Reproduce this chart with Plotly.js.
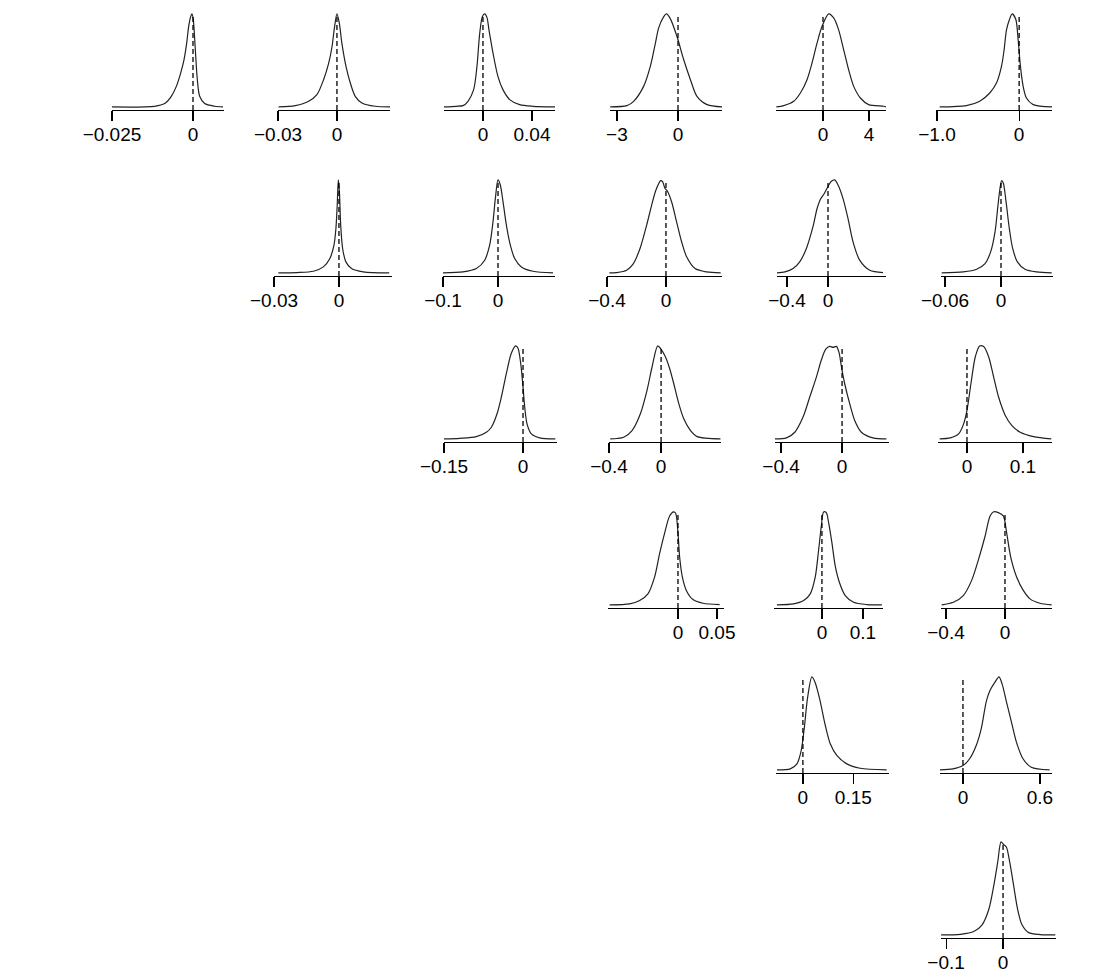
<!DOCTYPE html>
<html><head><meta charset="utf-8">
<script src="https://cdn.plot.ly/plotly-3.0.1.min.js"></script>
<style>html,body{margin:0;padding:0;background:#fff}</style>
</head><body><div id="chart" style="width:1100px;height:980px"></div>
<script>
// ---- data: posterior density curves (relative density, peak = 1) ----
const x_1_1 = [-0.025,-0.01183,-0.00874,-0.00669,-0.00514,-0.00381,-0.00278,-0.00195,-0.00134,-0.00072,-0.00031,0.0001,0.00072,0.00134,0.00206,0.0036,0.00669,0.00926];
const d_1_1 = [0,0.007,0.036,0.114,0.221,0.364,0.507,0.686,0.864,0.971,1.0,0.936,0.614,0.293,0.114,0.036,0.007,0];
const x_1_2 = [-0.0297,-0.0212,-0.0144,-0.0102,-0.0068,-0.0042,-0.0025,-0.0012,0,0.0012,0.0025,0.0046,0.0068,0.0093,0.0127,0.0195,0.0271];
const d_1_2 = [0,0.014,0.061,0.132,0.293,0.471,0.65,0.864,1,0.9,0.686,0.436,0.257,0.114,0.043,0.007,0];
const x_1_3 = [-0.0318,-0.0218,-0.0163,-0.0122,-0.0076,-0.0049,-0.0027,-0.0005,0.0014,0.0033,0.0049,0.0082,0.0122,0.0163,0.0218,0.0299,0.0408,0.0588];
const d_1_3 = [0,0.007,0.014,0.061,0.186,0.436,0.786,0.97,1.0,0.96,0.829,0.579,0.329,0.186,0.079,0.025,0.007,0];
const x_1_4 = [-3.33,-2.51,-2.18,-1.69,-1.36,-1.11,-0.95,-0.70,-0.57,-0.38,-0.05,0.28,0.61,0.93,1.43,2.16];
const d_1_4 = [0,0.014,0.06,0.221,0.436,0.686,0.85,0.971,1,0.95,0.757,0.507,0.293,0.114,0.025,0];
const x_1_5 = [-4.06,-3.42,-2.55,-1.97,-1.39,-0.96,-0.52,-0.09,0.49,0.93,1.36,1.80,2.23,2.67,3.25,3.97,5.28,5.48];
const d_1_5 = [0,0.014,0.061,0.15,0.293,0.471,0.686,0.864,1,0.957,0.829,0.614,0.4,0.221,0.096,0.025,0.007,0];
const x_1_6 = [-0.967,-0.642,-0.48,-0.358,-0.276,-0.215,-0.183,-0.154,-0.122,-0.085,-0.041,-0.012,0.016,0.049,0.089,0.171,0.40];
const d_1_6 = [0,0.014,0.061,0.15,0.257,0.436,0.614,0.829,0.93,1,0.943,0.721,0.436,0.221,0.096,0.025,0];
const x_2_2 = [-0.028,-0.0195,-0.0118,-0.0072,-0.0042,-0.0023,-0.0014,-0.0008,-0.0003,0.0002,0.0008,0.0017,0.0032,0.0058,0.0112,0.0232];
const d_2_2 = [0,0.004,0.018,0.065,0.155,0.299,0.478,0.73,1,0.874,0.514,0.263,0.119,0.047,0.011,0];
const x_2_3 = [-0.1,-0.0636,-0.0394,-0.0242,-0.0152,-0.0091,-0.0048,0,0.0042,0.0091,0.0152,0.0224,0.0303,0.0424,0.0636,0.1];
const d_2_3 = [0,0.011,0.047,0.137,0.299,0.55,0.802,1,0.946,0.766,0.514,0.299,0.155,0.065,0.018,0];
const x_2_4 = [-0.384,-0.335,-0.267,-0.221,-0.176,-0.131,-0.097,-0.068,-0.036,-0.023,-0.007,0.009,0.038,0.072,0.106,0.14,0.197,0.276,0.371];
const d_2_4 = [0,0.004,0.029,0.101,0.263,0.514,0.73,0.892,0.993,0.982,0.91,0.881,0.766,0.55,0.335,0.173,0.047,0.011,0];
const x_2_5 = [-0.504,-0.42,-0.341,-0.276,-0.211,-0.146,-0.107,-0.075,-0.033,0,0.033,0.065,0.098,0.146,0.195,0.244,0.309,0.407,0.537];
const d_2_5 = [0,0.011,0.047,0.119,0.263,0.5,0.69,0.79,0.86,0.93,0.985,1,0.946,0.802,0.586,0.335,0.137,0.029,0.004];
const x_2_6 = [-0.0636,-0.0404,-0.0261,-0.0171,-0.0111,-0.0064,-0.0036,-0.0011,0.0007,0.0025,0.0054,0.0089,0.0125,0.0175,0.0257,0.0382,0.0543];
const d_2_6 = [0,0.011,0.04,0.101,0.227,0.442,0.694,0.91,0.993,0.964,0.766,0.478,0.263,0.119,0.04,0.011,0];
const x_3_3 = [-0.15,-0.1202,-0.0886,-0.0696,-0.0601,-0.0493,-0.0411,-0.0316,-0.0222,-0.0139,-0.0095,-0.0044,0,0.0032,0.0076,0.0158,0.0316,0.0613];
const d_3_3 = [0,0.007,0.025,0.072,0.126,0.271,0.451,0.704,0.921,1,0.975,0.812,0.56,0.343,0.162,0.054,0.011,0];
const x_3_4 = [-0.39,-0.34,-0.287,-0.223,-0.159,-0.108,-0.069,-0.026,0,0.033,0.065,0.097,0.136,0.174,0.226,0.277,0.456];
const d_3_4 = [0,0.005,0.018,0.09,0.271,0.523,0.776,1,0.964,0.884,0.76,0.596,0.379,0.217,0.09,0.025,0];
const x_3_5 = [-0.4415,-0.365,-0.31,-0.256,-0.212,-0.168,-0.136,-0.107,-0.081,-0.059,-0.037,-0.02,-0.004,0.017,0.05,0.083,0.127,0.203,0.291];
const d_3_5 = [0,0.011,0.072,0.235,0.451,0.668,0.848,0.965,0.995,0.985,0.995,0.93,0.776,0.596,0.379,0.199,0.072,0.011,0];
const x_3_6 = [-0.0488,-0.0298,-0.0149,-0.006,0,0.0071,0.0149,0.0226,0.0298,0.0387,0.0476,0.0565,0.0685,0.0804,0.0952,0.119,0.1506];
const d_3_6 = [0,0.011,0.054,0.162,0.307,0.596,0.884,1,0.993,0.884,0.668,0.451,0.253,0.144,0.072,0.025,0];
const x_4_4 = [-0.0876,-0.062,-0.0491,-0.0385,-0.0299,-0.0235,-0.0171,-0.0107,-0.0056,-0.003,0,0.0021,0.0056,0.0107,0.0192,0.0321,0.0534];
const d_4_4 = [0,0.011,0.047,0.119,0.301,0.554,0.772,0.957,1,0.986,0.775,0.518,0.301,0.156,0.058,0.018,0.004];
const x_4_5 = [-0.1098,-0.0691,-0.0447,-0.0285,-0.0163,-0.0081,-0.0016,0.0041,0.0106,0.0163,0.0244,0.0325,0.0431,0.0569,0.0772,0.1098,0.1463];
const d_4_5 = [0,0.011,0.047,0.119,0.301,0.591,0.844,1,0.993,0.884,0.667,0.417,0.236,0.101,0.029,0.004,0];
const x_4_6 = [-0.4294,-0.3503,-0.2825,-0.226,-0.1808,-0.1356,-0.1017,-0.0791,-0.0452,-0.0113,0.0113,0.0384,0.0791,0.1243,0.1695,0.2373,0.3164];
const d_4_6 = [0,0.029,0.101,0.264,0.482,0.736,0.953,1,0.993,0.957,0.775,0.518,0.301,0.156,0.065,0.018,0];
const x_5_5 = [-0.077,-0.0375,-0.0178,-0.0059,0.004,0.0138,0.0267,0.0366,0.0514,0.0662,0.081,0.1008,0.1304,0.17,0.249];
const d_5_5 = [0,0.011,0.065,0.193,0.447,0.775,1,0.938,0.738,0.484,0.284,0.156,0.065,0.018,0];
const x_5_6 = [-0.182,-0.078,0,0.052,0.104,0.143,0.182,0.208,0.247,0.281,0.306,0.338,0.377,0.416,0.468,0.532,0.675];
const d_5_6 = [0,0.011,0.047,0.12,0.265,0.447,0.738,0.847,0.938,1,0.92,0.738,0.52,0.302,0.12,0.029,0];
const x_6_6 = [-0.1088,-0.0749,-0.0515,-0.0368,-0.0251,-0.0164,-0.0094,-0.0035,0.0012,0.0058,0.0117,0.0187,0.0257,0.0333,0.045,0.0655,0.0918];
const d_6_6 = [0,0.007,0.036,0.109,0.273,0.527,0.782,1,0.971,0.945,0.782,0.527,0.273,0.109,0.025,0.004,0];

// tick values and labels
const tv_1_1 = [-0.025,0],  tt_1_1 = ["\u22120.025","0"];
const tv_1_2 = [-0.03,0],   tt_1_2 = ["\u22120.03","0"];
const tv_1_3 = [0,0.04],    tt_1_3 = ["0","0.04"];
const tv_1_4 = [-3,0],      tt_1_4 = ["\u22123","0"];
const tv_1_5 = [0,4],       tt_1_5 = ["0","4"];
const tv_1_6 = [-1,0],      tt_1_6 = ["\u22121.0","0"];
const tv_2_2 = [-0.03,0],   tt_2_2 = ["\u22120.03","0"];
const tv_2_3 = [-0.1,0],    tt_2_3 = ["\u22120.1","0"];
const tv_2_4 = [-0.4,0],    tt_2_4 = ["\u22120.4","0"];
const tv_2_5 = [-0.4,0],    tt_2_5 = ["\u22120.4","0"];
const tv_2_6 = [-0.06,0],   tt_2_6 = ["\u22120.06","0"];
const tv_3_3 = [-0.15,0],   tt_3_3 = ["\u22120.15","0"];
const tv_3_4 = [-0.4,0],    tt_3_4 = ["\u22120.4","0"];
const tv_3_5 = [-0.4,0],    tt_3_5 = ["\u22120.4","0"];
const tv_3_6 = [0,0.1],     tt_3_6 = ["0","0.1"];
const tv_4_4 = [0,0.05],    tt_4_4 = ["0","0.05"];
const tv_4_5 = [0,0.1],     tt_4_5 = ["0","0.1"];
const tv_4_6 = [-0.4,0],    tt_4_6 = ["\u22120.4","0"];
const tv_5_5 = [0,0.15],    tt_5_5 = ["0","0.15"];
const tv_5_6 = [0,0.6],     tt_5_6 = ["0","0.6"];
const tv_6_6 = [-0.1,0],    tt_6_6 = ["\u22120.1","0"];

const refValue = 0; // dashed reference line

// ---- layout of panels: [left px, right px, axis y px, xmin, xmax] ----
const panels = [
  {x:x_1_1,d:d_1_1,tv:tv_1_1,tt:tt_1_1,box:[112,224,110,-0.025,0.00957]},
  {x:x_1_2,d:d_1_2,tv:tv_1_2,tt:tt_1_2,box:[278,390,110,-0.03,0.027]},
  {x:x_1_3,d:d_1_3,tv:tv_1_3,tt:tt_1_3,box:[444,555,110,-0.0318,0.0588]},
  {x:x_1_4,d:d_1_4,tv:tv_1_4,tt:tt_1_4,box:[610,722,110,-3.34,2.16]},
  {x:x_1_5,d:d_1_5,tv:tv_1_5,tt:tt_1_5,box:[776,886,110,-4.09,5.48]},
  {x:x_1_6,d:d_1_6,tv:tv_1_6,tt:tt_1_6,box:[936,1052,110,-1.012,0.40]},
  {x:x_2_2,d:d_2_2,tv:tv_2_2,tt:tt_2_2,box:[274,392,276,-0.03,0.0245]},
  {x:x_2_3,d:d_2_3,tv:tv_2_3,tt:tt_2_3,box:[443,555,276,-0.1,0.1036]},
  {x:x_2_4,d:d_2_4,tv:tv_2_4,tt:tt_2_4,box:[607,722,276,-0.4,0.38]},
  {x:x_2_5,d:d_2_5,tv:tv_2_5,tt:tt_2_5,box:[777,886,276,-0.4976,0.566]},
  {x:x_2_6,d:d_2_6,tv:tv_2_6,tt:tt_2_6,box:[941,1053,276,-0.0643,0.0557]},
  {x:x_3_3,d:d_3_3,tv:tv_3_3,tt:tt_3_3,box:[444,557,442,-0.15,0.0645]},
  {x:x_3_4,d:d_3_4,tv:tv_3_4,tt:tt_3_4,box:[609,721,442,-0.4,0.46]},
  {x:x_3_5,d:d_3_5,tv:tv_3_5,tt:tt_3_5,box:[775,889,442,-0.44,0.308]},
  {x:x_3_6,d:d_3_6,tv:tv_3_6,tt:tt_3_6,box:[938,1052,442,-0.0518,0.152]},
  {x:x_4_4,d:d_4_4,tv:tv_4_4,tt:tt_4_4,box:[608,724,608,-0.0897,0.059]},
  {x:x_4_5,d:d_4_5,tv:tv_4_5,tt:tt_4_5,box:[774,883,608,-0.117,0.149]},
  {x:x_4_6,d:d_4_6,tv:tv_4_6,tt:tt_4_6,box:[941,1052,608,-0.434,0.319]},
  {x:x_5_5,d:d_5_5,tv:tv_5_5,tt:tt_5_5,box:[776,889,773,-0.08,0.256]},
  {x:x_5_6,d:d_5_6,tv:tv_5_6,tt:tt_5_6,box:[940,1052,773,-0.179,0.694]},
  {x:x_6_6,d:d_6_6,tv:tv_6_6,tt:tt_6_6,box:[941,1056,938,-0.109,0.093]}
];

const W = 1100, H = 980;
const UNIT_PX = 93;              // pixels per unit of relative density
const YMIN = -0.033, YMAX = 1.06, DASH_TOP = 1.0;
const PANEL_H = (YMAX - YMIN) * UNIT_PX;
const traces = [];
const shapes = [];
const FONT = {family: 'Liberation Sans, Arial, sans-serif', size: 19, color: '#000'};
const layout = {
  width: W, height: H, margin: {l:0,r:0,t:0,b:0},
  paper_bgcolor: '#fff', plot_bgcolor: 'rgba(0,0,0,0)',
  showlegend: false, font: FONT
};

panels.forEach((p, i) => {
  const n = i === 0 ? '' : String(i + 1);
  const [l, r, ay, xmin, xmax] = p.box;
  traces.push({
    type: 'scatter', mode: 'lines', x: p.x, y: p.d,
    xaxis: 'x' + n, yaxis: 'y' + n,
    line: {color: '#222', width: 1.2, shape: 'spline', smoothing: 0.8},
    hoverinfo: 'skip'
  });
  layout['xaxis' + n] = {
    domain: [l / W, r / W], range: [xmin, xmax], anchor: 'y' + n,
    showline: true, linecolor: '#000', linewidth: 1.2,
    ticks: 'outside', ticklen: 10, tickwidth: 1.2, tickcolor: '#000',
    tickmode: 'array', tickvals: p.tv, ticktext: p.tt,
    ticklabelstandoff: -3,
    showgrid: false, zeroline: false, fixedrange: true,
    tickfont: FONT
  };
  layout['yaxis' + n] = {
    domain: [1 - ay / H, 1 - (ay - PANEL_H) / H], range: [YMIN, YMAX],
    anchor: 'x' + n, visible: false, fixedrange: true
  };
  shapes.push({
    type: 'line', xref: 'x' + n, yref: 'y' + n,
    x0: refValue, x1: refValue, y0: YMIN, y1: DASH_TOP,
    line: {color: '#000', width: 1.3, dash: '5px,3px'}
  });
});
layout.shapes = shapes;

Plotly.newPlot('chart', traces, layout, {staticPlot: true, displayModeBar: false});
</script>
</body></html>
